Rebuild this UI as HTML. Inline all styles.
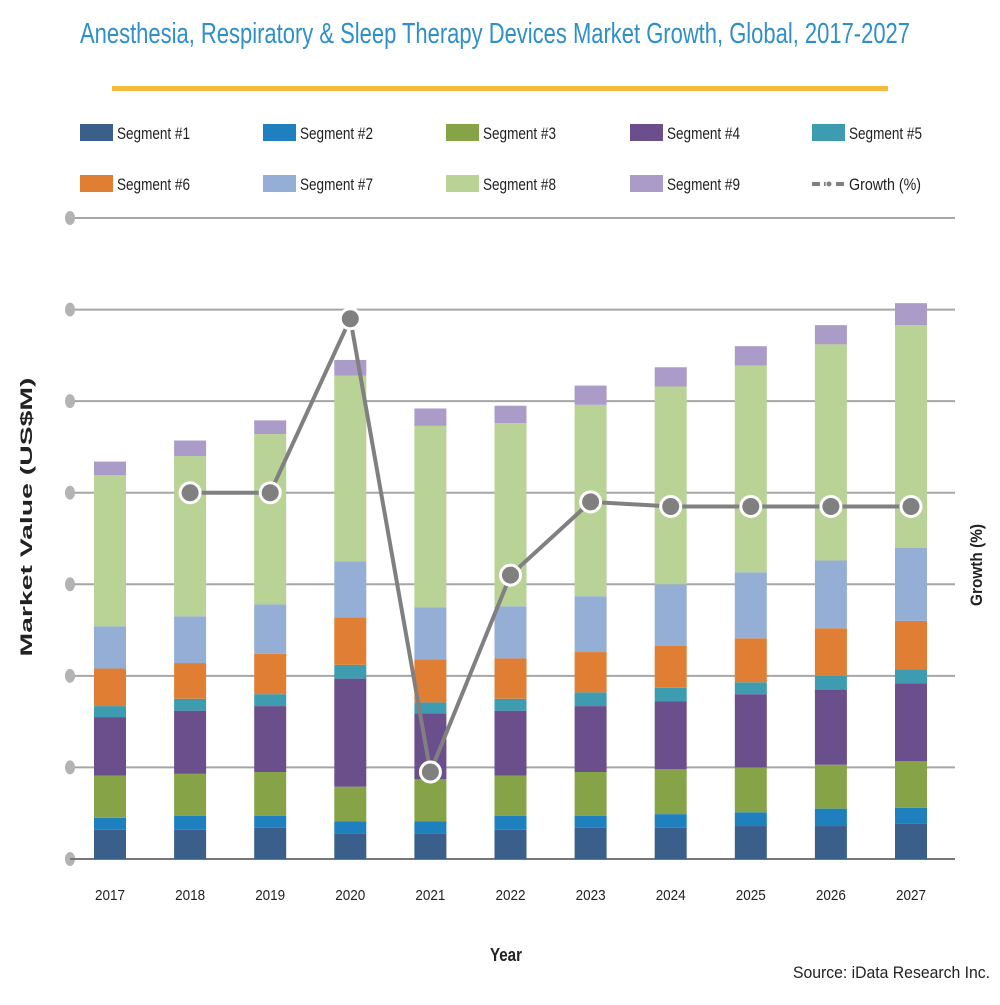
<!DOCTYPE html>
<html><head><meta charset="utf-8"><style>
body{margin:0;background:#fff;}
svg text{font-family:"Liberation Sans",sans-serif;}
</style></head><body>
<svg id="chart" width="1000" height="1000" viewBox="0 0 1000 1000">
<text x="80" y="43" textLength="830" lengthAdjust="spacingAndGlyphs" font-size="29" fill="#2f8fcb">Anesthesia, Respiratory &amp; Sleep Therapy Devices Market Growth, Global, 2017-2027</text>
<rect x="112" y="86" width="776" height="5" fill="#f5b93b"/>
<g id="legend"></g>
<g id="grid"></g>
<g id="bars"></g>
<g id="line"></g>
<g id="xlabels"></g>
<text x="490" y="961" textLength="32" lengthAdjust="spacingAndGlyphs" font-size="18" font-weight="bold" fill="#222">Year</text>
<text transform="translate(32,517) rotate(-90)" text-anchor="middle" textLength="279" lengthAdjust="spacingAndGlyphs" font-size="17" font-weight="bold" fill="#222">Market Value (US$M)</text>
<text transform="translate(982,565) rotate(-90)" text-anchor="middle" textLength="82" lengthAdjust="spacingAndGlyphs" font-size="17" font-weight="bold" fill="#222">Growth (%)</text>
<text x="793" y="978" textLength="197" lengthAdjust="spacingAndGlyphs" font-size="17" fill="#222">Source: iData Research Inc.</text>
</svg>
<script>
const years=["2017","2018","2019","2020","2021","2022","2023","2024","2025","2026","2027"];
const seg1=[32,32,34,28,28,32,34,34,36,36,39];
const seg2=[13,15,13,13,13,15,13,15,15,19,17];
const seg3=[46,46,48,38,46,44,48,49,49,48,51];
const seg4=[64,69,72,118,72,71,72,74,80,82,85];
const seg5=[12,13,13,15,12,13,15,15,13,15,15];
const seg6=[41,39,44,52,47,44,44,46,48,52,53];
const seg7=[46,51,54,61,57,57,61,67,72,74,80];
const seg8=[165,175,186,203,198,200,209,216,226,236,243];
const seg9=[15,17,15,17,19,19,21,21,21,21,24];
const growth=[null,8.0,8.0,11.8,1.9,6.2,7.8,7.7,7.7,7.7,7.7];
const segNames=["Segment #1","Segment #2","Segment #3","Segment #4","Segment #5","Segment #6","Segment #7","Segment #8","Segment #9"];
const colors=["#3a5f8a","#1f80bf","#86a447","#6b4f8d","#3e9cb1","#e07f34","#94aed6","#b9d296","#ab9bc8"];
const NS="http://www.w3.org/2000/svg";
const series=[seg1,seg2,seg3,seg4,seg5,seg6,seg7,seg8,seg9];
const x0=70,x1=955,yBase=859,yTop=218,vMax=700,gMax=14;
const yS=v=>yBase-v/vMax*(yBase-yTop);
const gS=g=>yBase-g/gMax*(yBase-yTop);
const xC=i=>110+i*80.1;
function mk(tag,attrs,parent){const e=document.createElementNS(NS,tag);for(const k in attrs)e.setAttribute(k,attrs[k]);parent.appendChild(e);return e;}
const grid=document.getElementById('grid');
for(let v=100;v<=vMax;v+=100){
 const gl=mk('line',{x1:x0,x2:x1,y1:yS(v),y2:yS(v),stroke:'#a6a6a6','stroke-width':2},grid);
 
 
}
for(let v=0;v<=vMax;v+=100){
 const d=mk('ellipse',{cx:x0,cy:yS(v),rx:5,ry:7,fill:'#b3b3b3'},grid);
 
 
}
const ax=mk('line',{x1:x0,x2:x1,y1:yBase,y2:yBase,stroke:'#777','stroke-width':2},grid);


const bars=document.getElementById('bars');
years.forEach((yr,i)=>{
 let acc=0;
 series.forEach((s,k)=>{
  const y0=yS(acc),y1v=yS(acc+s[i]);acc+=s[i];
  const r=mk('rect',{x:xC(i)-16,y:y1v,width:32,height:y0-y1v,fill:colors[k]},bars);
  
  
 });
 const t=mk('text',{x:xC(i)-15,y:900,textLength:30,lengthAdjust:'spacingAndGlyphs','font-size':15,fill:'#222'},document.getElementById('xlabels'));
 t.textContent=yr;
 
 
});
const lg=document.getElementById('line');
let pts=[];growth.forEach((g,i)=>{if(g!==null)pts.push([xC(i),gS(g)]);});
const pl=mk('polyline',{points:pts.map(p=>p.join(',')).join(' '),fill:'none',stroke:'#808080','stroke-width':4},lg);


growth.forEach((g,i)=>{if(g===null)return;
 const c=mk('circle',{cx:xC(i),cy:gS(g),r:10,fill:'#808080',stroke:'#fff','stroke-width':3},lg);
 
 
});
const leg=document.getElementById('legend');
const cols=[80,263,446,630,812];
segNames.concat(["Growth (%)"]).forEach((n,k)=>{
 const cx=cols[k%5],cy=k<5?124:175;
 const g=mk('g',{},leg);
 
 
 if(k<9){mk('rect',{x:cx,y:cy,width:33,height:17,fill:colors[k]},g);}
 else{mk('line',{x1:cx,x2:cx+33,y1:cy+9,y2:cy+9,stroke:'#808080','stroke-width':4,'stroke-dasharray':'8,4'},g);
  mk('circle',{cx:cx+17,cy:cy+9,r:3,fill:'#808080',stroke:'#fff','stroke-width':1},g);}
 const t=mk('text',{x:cx+37,y:cy+15,textLength:k<9?73:72,lengthAdjust:'spacingAndGlyphs','font-size':17,fill:'#222'},g);t.textContent=n;
});
</script>
</body></html>
